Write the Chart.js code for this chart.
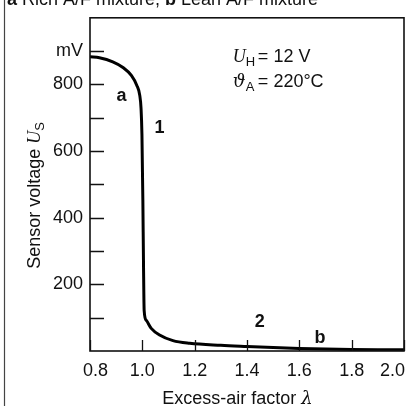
<!DOCTYPE html>
<html><head><meta charset="utf-8">
<script src="https://cdn.jsdelivr.net/npm/chart.js@4"></script>
<style>html,body{margin:0;padding:0;background:#fff;overflow:hidden}canvas{display:block}</style>
</head><body>
<canvas id="c" width="414" height="406"></canvas>
<script>
// ---- data ----
const lambdaValues  = [0.800, 0.836, 0.887, 0.926, 0.958, 0.979, 0.990, 0.995, 0.9985, 1.002, 1.0045, 1.007, 1.015, 1.034, 1.066, 1.117, 1.181, 1.30, 1.40, 1.50, 1.60, 1.70, 1.80, 1.90, 2.00];
const voltageValues = [883, 880, 868, 851, 827, 797, 768, 729, 650, 454, 259, 121, 92, 68, 48, 31, 23, 17, 13.5, 10.3, 7.6, 5.8, 4.7, 4.1, 3.8];
const xTickValues = [0.8, 1.0, 1.2, 1.4, 1.6, 1.8, 2.0];
const xTickLabels = ['0.8', '1.0', '1.2', '1.4', '1.6', '1.8', '2.0'];
const yTickValues = [200, 400, 600, 800, 900];
const yTickLabels = ['200', '400', '600', '800', 'mV'];
const yMinorTicks = [100, 200, 300, 400, 500, 600, 700, 800, 900];
const curveLabels = ['a', '1', '2', 'b'];
const curveLabelX = [0.92, 1.066, 1.449, 1.679];
const curveLabelY = [765, 670, 87, 40];
const titleText = ['a', ' Rich A/F mixture, ', 'b', ' Lean A/F mixture'];

const FONT = '"Liberation Sans", Arial, Helvetica, sans-serif';
const INK = '#111';

function drawRuns(ctx, runs, x, y) {
  let cx = x;
  for (const r of runs) {
    ctx.font = r.font;
    ctx.fillText(r.t, cx, y + (r.dy || 0));
    cx += ctx.measureText(r.t).width;
  }
  return cx;
}
function runsWidth(ctx, runs) {
  let w = 0;
  for (const r of runs) { ctx.font = r.font; w += ctx.measureText(r.t).width; }
  return w;
}

const decor = {
  id: 'decor',
  afterDraw(chart) {
    const { ctx, chartArea: a, scales: { x, y } } = chart;
    ctx.save();
    ctx.fillStyle = INK;
    // outer frame (left edge)
    ctx.strokeStyle = '#444'; ctx.lineWidth = 1.2;
    ctx.beginPath(); ctx.moveTo(4.5, 0); ctx.lineTo(4.5, chart.height); ctx.stroke();
    // plot box
    ctx.strokeStyle = INK; ctx.lineWidth = 1.6;
    ctx.strokeRect(a.left, a.top, a.right - a.left, a.bottom - a.top);
    // inward ticks
    ctx.lineWidth = 1.3;
    ctx.beginPath();
    for (const v of yMinorTicks) {
      const py = Math.round(y.getPixelForValue(v)) + 0.5;
      ctx.moveTo(a.left, py); ctx.lineTo(a.left + 14, py);
    }
    for (const v of xTickValues) {
      const px = Math.round(x.getPixelForValue(v)) + 0.5;
      ctx.moveTo(px, a.bottom); ctx.lineTo(px, a.bottom - 11);
    }
    ctx.stroke();
    // x tick labels
    ctx.font = '18px ' + FONT;
    ctx.textAlign = 'center'; ctx.textBaseline = 'middle';
    xTickValues.forEach((v, i) => {
      let px = x.getPixelForValue(v);
      if (i === 0) px += 5.5;
      if (i === xTickValues.length - 1) px -= 11.5;
      ctx.fillText(xTickLabels[i], px, a.bottom + 20);
    });
    // x axis title
    ctx.textAlign = 'left'; ctx.textBaseline = 'alphabetic';
    const xt = [{ t: 'Excess-air factor ', font: '18px ' + FONT }, { t: 'λ', font: 'italic 18px "DejaVu Serif", serif' }];
    const xtw = runsWidth(ctx, xt);
    drawRuns(ctx, xt, (a.left + a.right) / 2 - 9.5 - xtw / 2, a.bottom + 53);
    // y axis title (rotated)
    ctx.save();
    ctx.translate(35, (a.top + a.bottom) / 2 + 11);
    ctx.rotate(-Math.PI / 2);
    ctx.textBaseline = 'middle';
    const yt = [{ t: 'Sensor voltage ', font: '18px ' + FONT },
                { t: 'U', font: 'italic 18px "Liberation Serif", "Times New Roman", serif' },
                { t: 'S', font: '13px ' + FONT, dy: 5 }];
    const ytw = runsWidth(ctx, yt);
    drawRuns(ctx, yt, -ytw / 2, 0);
    ctx.restore();
    // top title (cut off)
    ctx.textBaseline = 'alphabetic';
    drawRuns(ctx, [
      { t: titleText[0], font: 'bold 18px ' + FONT },
      { t: titleText[1], font: '18px ' + FONT },
      { t: titleText[2], font: 'bold 18px ' + FONT },
      { t: titleText[3], font: '18px ' + FONT }], 7, 5);
    // curve labels
    ctx.font = 'bold 18px ' + FONT;
    ctx.textAlign = 'center'; ctx.textBaseline = 'middle';
    curveLabels.forEach((t, i) => ctx.fillText(t, x.getPixelForValue(curveLabelX[i]), y.getPixelForValue(curveLabelY[i])));
    // conditions
    ctx.textAlign = 'left'; ctx.textBaseline = 'middle';
    const ax = x.getPixelForValue(1.346);
    drawRuns(ctx, [{ t: 'U', font: 'italic 18px "Liberation Serif", "Times New Roman", serif' },
                   { t: 'H', font: '13px ' + FONT, dy: 5 }], ax, y.getPixelForValue(881));
    ctx.font = '18px ' + FONT;
    ctx.fillText('= 12 V', ax + 25, y.getPixelForValue(881));
    drawRuns(ctx, [{ t: 'ϑ', font: 'italic 18px "DejaVu Serif", serif' },
                   { t: 'A', font: '13px ' + FONT, dy: 5 }], ax, y.getPixelForValue(807));
    ctx.font = '18px ' + FONT;
    ctx.fillText('= 220°C', ax + 25, y.getPixelForValue(807));
    ctx.restore();
  }
};

new Chart(document.getElementById('c'), {
  type: 'line',
  data: {
    datasets: [{
      data: lambdaValues.map((l, i) => ({ x: l, y: voltageValues[i] })),
      borderColor: '#000', borderWidth: 3, pointRadius: 0,
      cubicInterpolationMode: 'monotone', fill: false
    }]
  },
  options: {
    responsive: false, devicePixelRatio: 1, animation: false,
    layout: { padding: { top: 11, right: 10, left: 0, bottom: 0 } },
    plugins: { legend: { display: false }, tooltip: { enabled: false }, title: { display: false } },
    scales: {
      x: {
        type: 'linear', min: 0.8, max: 2.0,
        ticks: { display: false },
        grid: { display: false }, border: { display: false },
        afterFit: s => { s.height = 55; }
      },
      y: {
        type: 'linear', min: 0, max: 1000,
        ticks: {
          stepSize: 100, autoSkip: false, padding: 7, color: INK,
          font: { family: FONT, size: 18 },
          callback: v => { const i = yTickValues.indexOf(v); return i >= 0 ? yTickLabels[i] : ''; }
        },
        grid: { display: false, drawTicks: false }, border: { display: false },
        afterFit: s => { s.width = 90; }
      }
    }
  },
  plugins: [decor]
});
</script>
</body></html>
